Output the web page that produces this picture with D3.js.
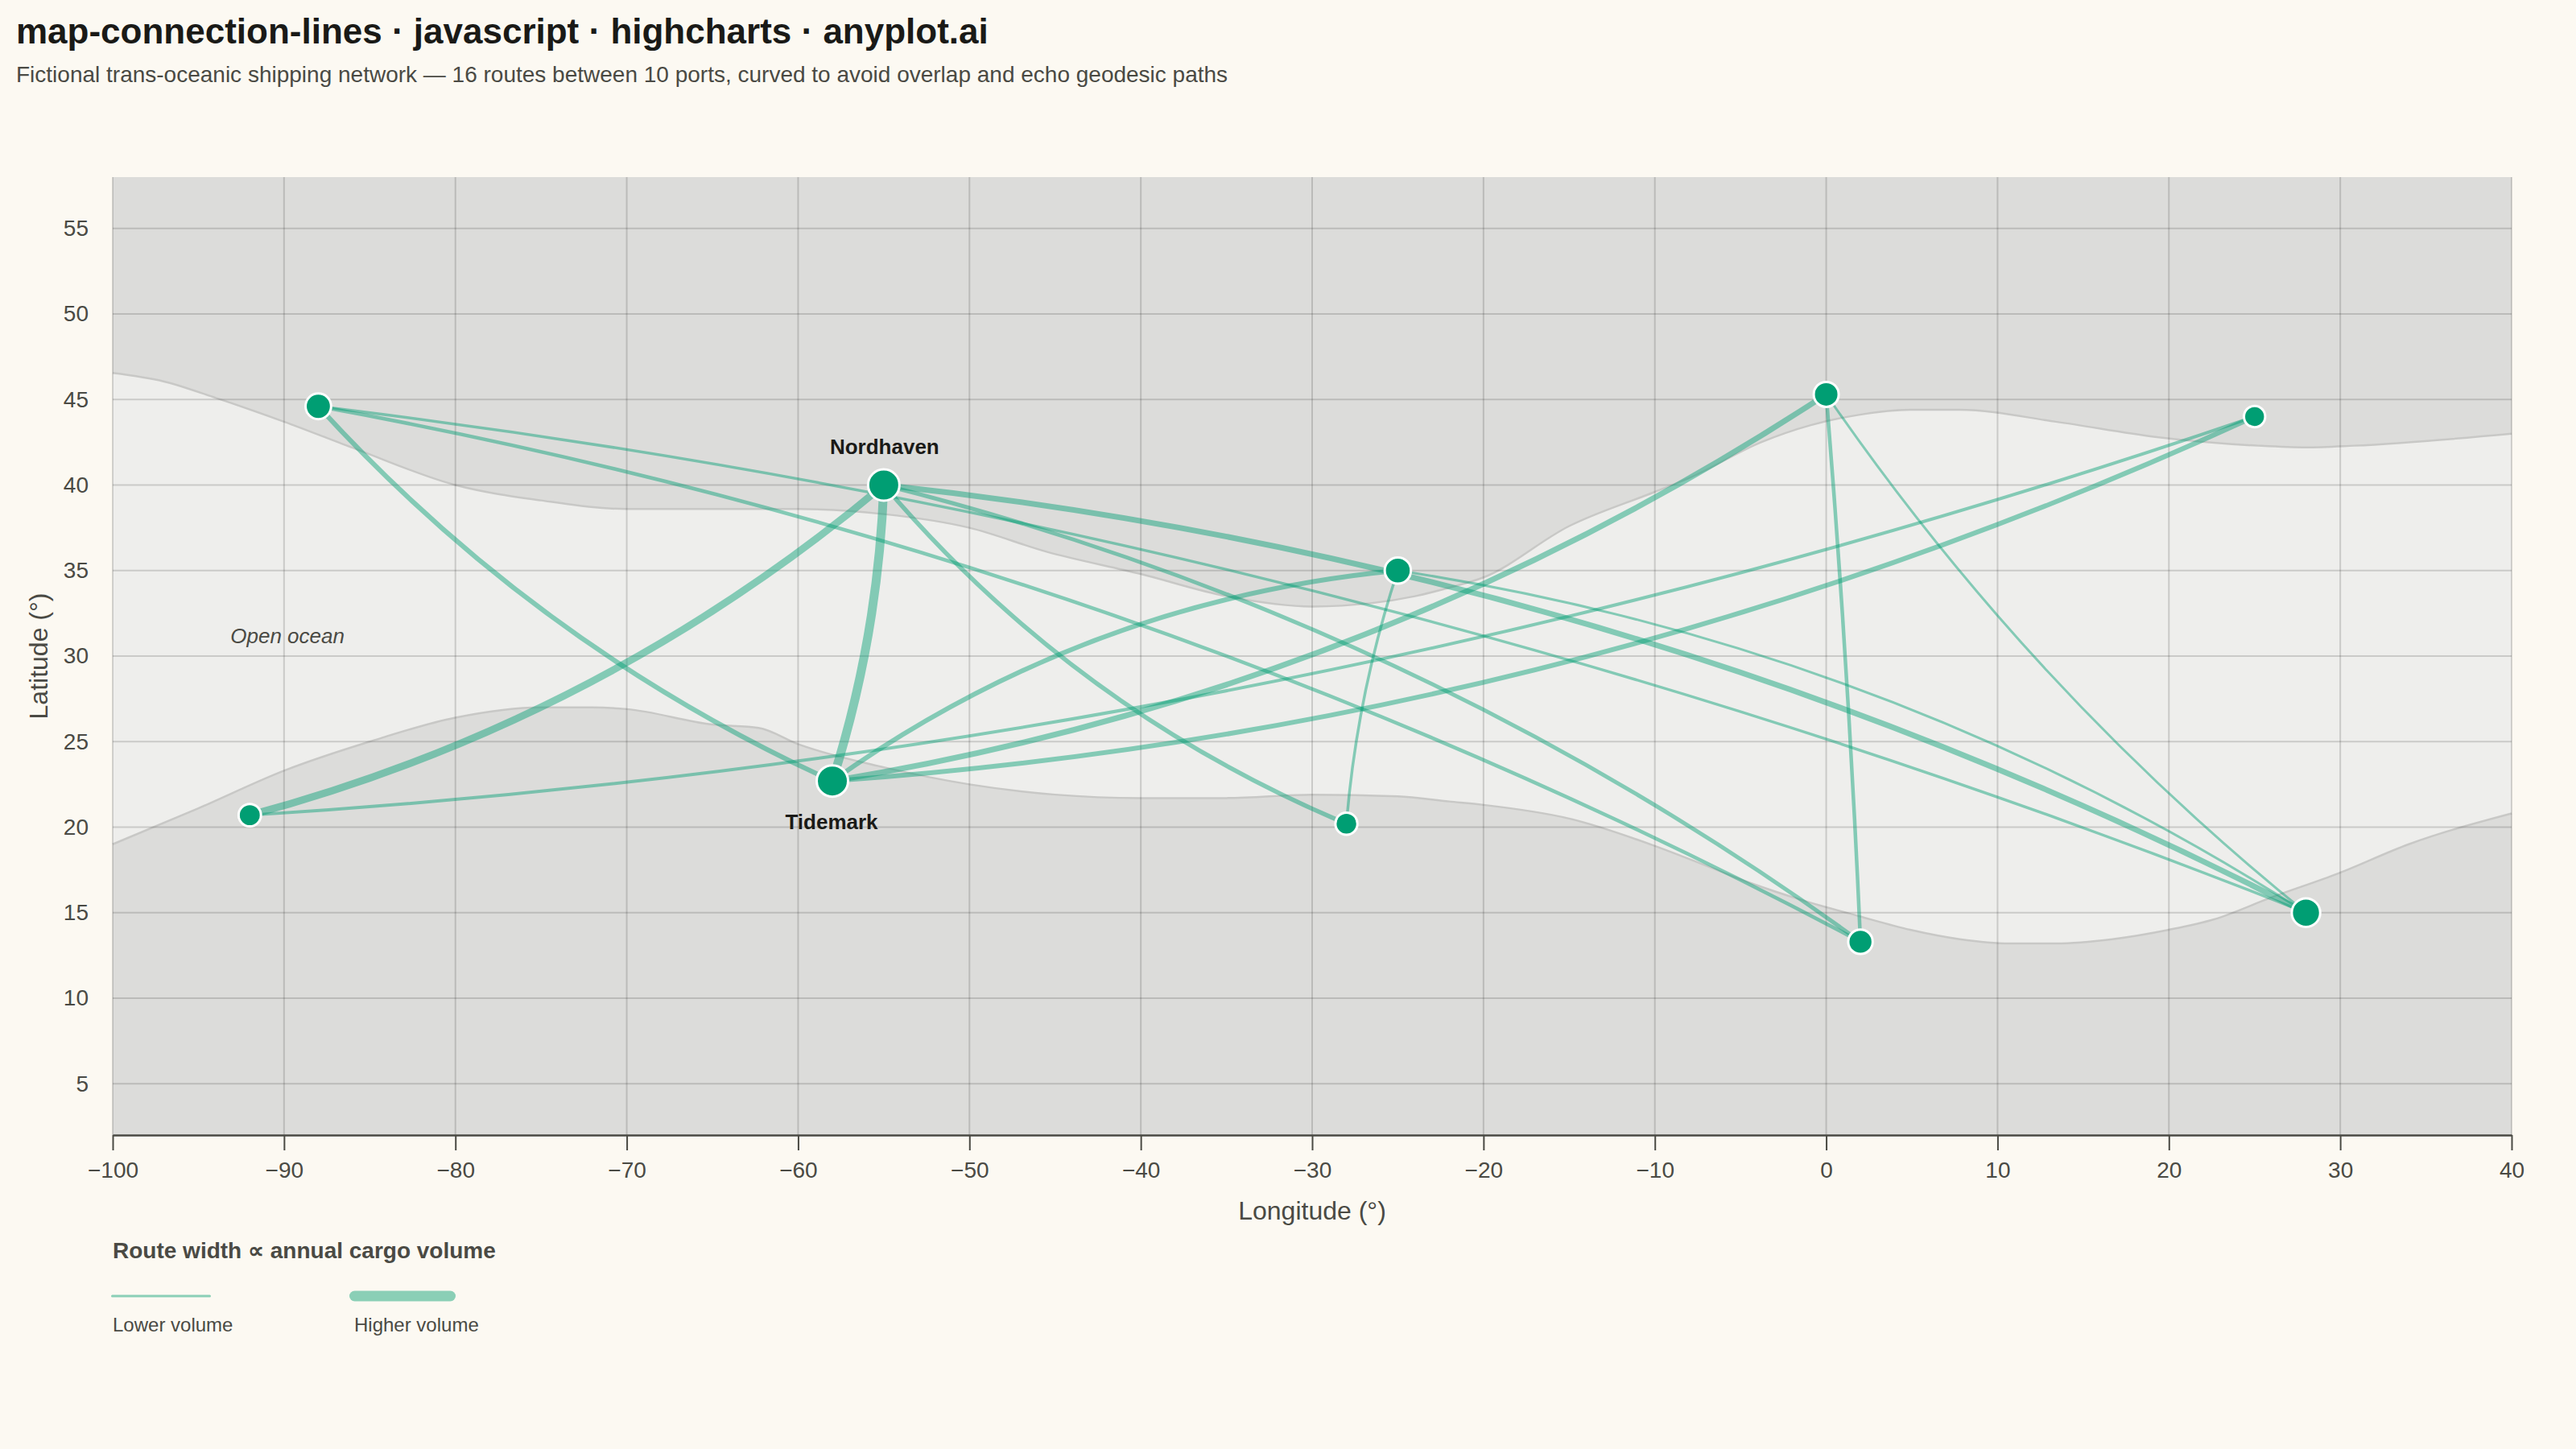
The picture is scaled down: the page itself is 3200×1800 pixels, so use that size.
<!DOCTYPE html>
<html>
<head>
<meta charset="utf-8">
<title>map-connection-lines</title>
<script src="https://cdn.jsdelivr.net/npm/d3@7"></script>
<style>
  html, body { margin: 0; padding: 0; background: #fcf9f2; }
  svg { display: block; font-family: "Liberation Sans", Arial, sans-serif; }
</style>
</head>
<body>
<div id="chart"></div>
<script>
// -- data --
const portNames = ['Nordhaven', 'Tidemark', 'Westport', 'Caymar', 'Eastgate', 'Farhaven', 'Midway', 'Sandbar', 'Southmere', 'Kapland'];
const portLon = [-55, -58, -88, -92, 0, 25, -25, -28, 2, 28];
const portLat = [40, 22.7, 44.6, 20.7, 45.3, 44, 35, 20.2, 13.3, 15];
const portTraffic = [98, 98, 62, 42, 58, 35, 66, 40, 55, 80];
const labelledPorts = ['Nordhaven', 'Tidemark'];

const routeFrom = ['Tidemark', 'Caymar', 'Nordhaven', 'Tidemark', 'Tidemark', 'Tidemark', 'Westport', 'Nordhaven', 'Nordhaven', 'Westport', 'Eastgate', 'Caymar', 'Westport', 'Midway', 'Midway', 'Eastgate'];
const routeTo = ['Nordhaven', 'Nordhaven', 'Kapland', 'Eastgate', 'Farhaven', 'Midway', 'Tidemark', 'Sandbar', 'Southmere', 'Southmere', 'Southmere', 'Farhaven', 'Kapland', 'Kapland', 'Sandbar', 'Kapland'];
const routeVolume = [100, 80, 60, 60, 50, 50, 50, 45, 40, 35, 35, 30, 25, 20, 25, 20];
// sideways bow of each route at mid-way, in degrees (+ = left of travel direction)
const routeBow = [-0.6, -2.3, 4.05, -3.3, -3.9, 2.35, -1.9, -2.0, 3.05, 3.7, 0.15, -4.0, 3.9, 3.0, -0.45, -1.5];

const coastNorthLon = [-100, -97, -94, -90, -85.8, -80, -75, -70, -65, -60, -55, -50, -45.5, -40, -35, -30, -26.5, -24, -22, -20, -15, -10, -7.9, -3.8, -0.9, 1.9, 4.9, 7.8, 13.4, 19.3, 25.2, 28, 30.8, 40];
const coastNorthLat = [46.55, 46.05, 45.1, 43.7, 42.1, 40, 39.1, 38.6, 38.6, 38.6, 38.3, 37.5, 36.1, 34.8, 33.5, 32.9, 33.1, 33.5, 34, 34.6, 37.6, 39.6, 40.45, 42.5, 43.5, 44.1, 44.4, 44.4, 43.7, 42.8, 42.3, 42.2, 42.3, 43];
const coastSouthLon = [-100, -95, -90, -85, -80, -75, -72, -70, -65, -62.3, -60, -55, -50, -45, -40, -35, -30, -25, -22, -20, -15, -10, -7.9, -4.6, -1.3, 1.9, 4.9, 7.8, 10.7, 13.4, 16.7, 20, 22.6, 26, 29.9, 34, 40];
const coastSouthLat = [19, 21.1, 23.3, 25, 26.4, 27, 27, 26.9, 26, 25.8, 24.85, 23.5, 22.5, 21.9, 21.7, 21.7, 21.9, 21.8, 21.5, 21.3, 20.5, 18.9, 18.1, 16.8, 15.7, 14.8, 14, 13.45, 13.2, 13.2, 13.45, 14, 14.6, 15.9, 17.3, 19, 20.8];

const lonTicks = d3.range(-100, 41, 10);
const latTicks = d3.range(5, 56, 5);

const width = 3200, height = 1800;
const plot = { left: 140, right: 3120, top: 220, bottom: 1410 };
const inkColor = '#1a1a17', mutedColor = '#4a4a44';
const routeColor = '#009E73';

const x = d3.scaleLinear().domain([-100, 40]).range([plot.left, plot.right]);
const y = d3.scaleLinear().domain([2, 58]).range([plot.bottom, plot.top]);
const routeWidth = d3.scaleLinear().domain([20, 120]).range([3, 13]);
const portRadius = d3.scaleLinear().domain([35, 98]).range([13.2, 19.5]);

const svg = d3.select('#chart').append('svg')
  .attr('width', width)
  .attr('height', height)
  .attr('viewBox', [0, 0, width, height]);

svg.append('rect').attr('width', width).attr('height', height).attr('fill', '#fcf9f2');

svg.append('text').attr('x', 20).attr('y', 54)
  .attr('font-size', 44).attr('font-weight', 700).attr('fill', inkColor)
  .text('map-connection-lines · javascript · highcharts · anyplot.ai');
svg.append('text').attr('x', 20).attr('y', 102)
  .attr('font-size', 28).attr('fill', mutedColor)
  .text('Fictional trans-oceanic shipping network — 16 routes between 10 ports, curved to avoid overlap and echo geodesic paths');

// ocean + the two land masses
svg.append('rect')
  .attr('x', plot.left).attr('y', plot.top)
  .attr('width', plot.right - plot.left).attr('height', plot.bottom - plot.top)
  .attr('fill', '#eeeeec');

const north = d3.zip(coastNorthLon, coastNorthLat);
const south = d3.zip(coastSouthLon, coastSouthLat);
const landNorth = d3.area().x(d => x(d[0])).y0(plot.top).y1(d => y(d[1])).curve(d3.curveMonotoneX);
const landSouth = d3.area().x(d => x(d[0])).y0(plot.bottom).y1(d => y(d[1])).curve(d3.curveMonotoneX);
const coast = d3.line().x(d => x(d[0])).y(d => y(d[1])).curve(d3.curveMonotoneX);

svg.append('path').attr('d', landNorth(north)).attr('fill', '#dcdcda');
svg.append('path').attr('d', landSouth(south)).attr('fill', '#dcdcda');
[north, south].forEach(c => {
  svg.append('path').attr('d', coast(c)).attr('fill', 'none')
    .attr('stroke', '#c8c8c6').attr('stroke-width', 2.5);
});

// grid
svg.append('g').selectAll('line').data(lonTicks).enter().append('line')
  .attr('x1', d => x(d)).attr('x2', d => x(d))
  .attr('y1', plot.top).attr('y2', plot.bottom)
  .attr('stroke', '#1a1a17').attr('stroke-opacity', 0.17).attr('stroke-width', 2);
svg.append('g').selectAll('line').data(latTicks).enter().append('line')
  .attr('x1', plot.left).attr('x2', plot.right)
  .attr('y1', d => y(d)).attr('y2', d => y(d))
  .attr('stroke', '#1a1a17').attr('stroke-opacity', 0.17).attr('stroke-width', 2);

// axes
const xAxis = svg.append('g')
  .attr('transform', `translate(0,${plot.bottom})`)
  .call(d3.axisBottom(x).tickValues(lonTicks).tickFormat(d3.format('d')).tickSize(19).tickPadding(14).tickSizeOuter(0));
xAxis.select('.domain').attr('stroke', mutedColor).attr('stroke-width', 2.5);
xAxis.selectAll('.tick line').attr('stroke', mutedColor).attr('stroke-width', 2);
xAxis.selectAll('text').attr('font-size', 28).attr('font-family', 'inherit').attr('fill', mutedColor);

const yAxis = svg.append('g')
  .attr('transform', `translate(${plot.left},0)`)
  .call(d3.axisLeft(y).tickValues(latTicks).tickFormat(d3.format('d')).tickSize(0).tickPadding(30));
yAxis.select('.domain').remove();
yAxis.selectAll('text').attr('font-size', 28).attr('font-family', 'inherit').attr('fill', mutedColor);

svg.append('text')
  .attr('x', (plot.left + plot.right) / 2).attr('y', 1515)
  .attr('text-anchor', 'middle').attr('font-size', 32).attr('fill', mutedColor)
  .text('Longitude (°)');
svg.append('text')
  .attr('transform', `translate(59,${(plot.top + plot.bottom) / 2}) rotate(-90)`)
  .attr('text-anchor', 'middle').attr('font-size', 32).attr('fill', mutedColor)
  .text('Latitude (°)');

// routes
const ports = portNames.map((name, i) => ({ name, lon: portLon[i], lat: portLat[i], traffic: portTraffic[i] }));
const portByName = new Map(ports.map(p => [p.name, p]));
const routes = routeFrom.map((from, i) => ({ from: portByName.get(from), to: portByName.get(routeTo[i]), volume: routeVolume[i], bow: routeBow[i] }));

const degToPx = Math.abs(x(1) - x(0));
function routePath(r) {
  const x0 = x(r.from.lon), y0 = y(r.from.lat), x1 = x(r.to.lon), y1 = y(r.to.lat);
  const dx = x1 - x0, dy = y1 - y0, len = Math.hypot(dx, dy);
  // quadratic control point sits at twice the bow
  const k = 2 * r.bow * degToPx / len;
  const p = d3.path();
  p.moveTo(x0, y0);
  p.quadraticCurveTo((x0 + x1) / 2 + dy * k, (y0 + y1) / 2 - dx * k, x1, y1);
  return p.toString();
}

svg.append('g').selectAll('path').data(routes).enter().append('path')
  .attr('d', routePath)
  .attr('fill', 'none')
  .attr('stroke', routeColor)
  .attr('stroke-opacity', 0.45)
  .attr('stroke-width', d => routeWidth(d.volume));

// ports
svg.append('g').selectAll('circle').data(ports).enter().append('circle')
  .attr('cx', d => x(d.lon)).attr('cy', d => y(d.lat))
  .attr('r', d => portRadius(d.traffic))
  .attr('fill', routeColor)
  .attr('stroke', '#ffffff').attr('stroke-width', 3);

svg.append('g').selectAll('text').data(ports.filter(p => labelledPorts.includes(p.name))).enter().append('text')
  .attr('x', d => x(d.lon) + (d.name === 'Tidemark' ? -1 : 1))
  .attr('y', d => y(d.lat) + (d.name === 'Tidemark' ? 60 : -39))
  .attr('text-anchor', 'middle')
  .attr('font-size', 26).attr('font-weight', 700).attr('fill', inkColor)
  .text(d => d.name);

svg.append('text')
  .attr('x', x(-89.8)).attr('y', y(31) - 2)
  .attr('text-anchor', 'middle').attr('dominant-baseline', 'middle')
  .attr('font-size', 26).attr('font-style', 'italic').attr('fill', mutedColor)
  .text('Open ocean');

// width legend
const legend = svg.append('g');
legend.append('text').attr('x', 140).attr('y', 1563)
  .attr('font-size', 28).attr('font-weight', 700).attr('fill', mutedColor)
  .text('Route width ∝ annual cargo volume');
legend.selectAll('rect').data([20, 120]).enter().append('rect')
  .attr('x', d => d === 20 ? 138 : 434)
  .attr('y', d => 1610 - routeWidth(d) / 2)
  .attr('width', d => d === 20 ? 124 : 132)
  .attr('height', d => routeWidth(d))
  .attr('rx', d => routeWidth(d) / 2)
  .attr('fill', '#8acfb6');
legend.append('text').attr('x', 140).attr('y', 1654)
  .attr('font-size', 24).attr('fill', mutedColor).text('Lower volume');
legend.append('text').attr('x', 440).attr('y', 1654)
  .attr('font-size', 24).attr('fill', mutedColor).text('Higher volume');
</script>
</body>
</html>
